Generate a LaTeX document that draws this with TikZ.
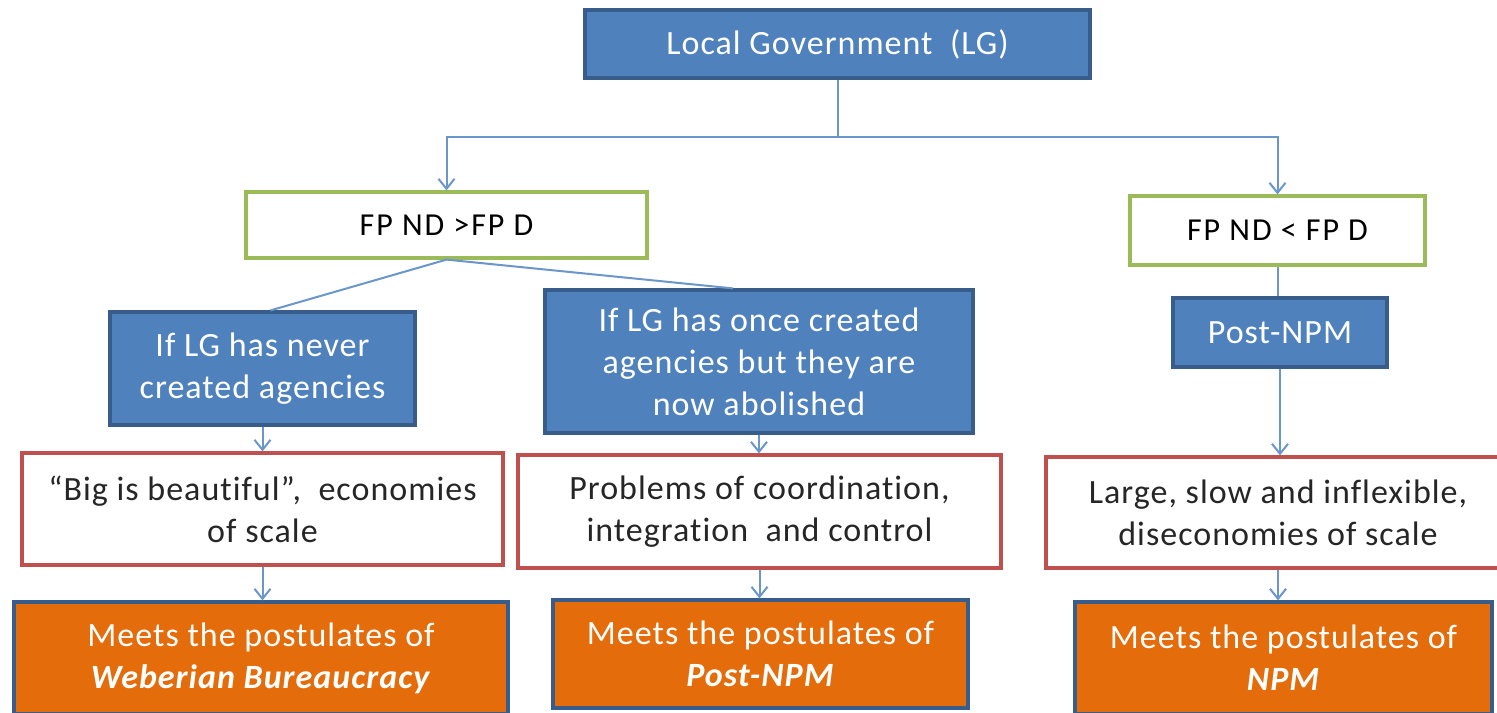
\documentclass[tikz,border=0pt]{standalone}
\usepackage{fontspec}
\setmainfont{Carlito}[LetterSpace=3,Ligatures=NoCommon]
\usetikzlibrary{arrows.meta}
\definecolor{boxblue}{HTML}{4F81BD}
\definecolor{boxblueline}{HTML}{385D8A}
\definecolor{boxgreen}{HTML}{9BBB59}
\definecolor{boxred}{HTML}{C0504D}
\definecolor{boxorange}{HTML}{E46C0A}
\definecolor{conn}{HTML}{6A96CB}
\tikzset{
 base/.style={rectangle, inner sep=0pt, align=center, line width=1.6pt, font=\fontsize{17}{21}\selectfont},
 bluebox/.style={base, fill=boxblue, draw=boxblueline, text=white},
 greenbox/.style={base, fill=white, draw=boxgreen, text=black, font=\fontsize{16}{19}\selectfont\addfontfeatures{LetterSpace=6}},
 redbox/.style={base, fill=white, draw=boxred, text=black!85},
 orangebox/.style={base, fill=boxorange, draw=boxblueline, text=white},
 arr/.style={draw=conn, line width=1pt, -{Straight Barb[length=5pt,width=8pt]}},
 ln/.style={draw=conn, line width=1pt},
}
\begin{document}
\begin{tikzpicture}[x=0.5pt,y=-0.5pt]
\useasboundingbox (0,0) rectangle (1497,712);
\clip (0,0) rectangle (1497,712);
\fill[white] (0,0) rectangle (1497,712);

\node[bluebox, minimum width=252.5pt, minimum height=34pt] (lg) at (837.5,44) {Local Government\ \ (LG)};
\node[greenbox, minimum width=200.5pt, minimum height=33pt] (fp1) at (446.5,225) {FP ND >FP D};
\node[greenbox, minimum width=147.5pt, minimum height=34.5pt] (fp2) at (1277.5,230.5) {FP ND < FP D};
\node[bluebox, minimum width=152.5pt, minimum height=56.5pt] (b1) at (262.5,368.5) {If LG has never\\created agencies};
\node[bluebox, minimum width=214pt, minimum height=71.5pt] (b2) at (759,361.5) {If LG has once created\\agencies but they are\\now abolished};
\node[bluebox, minimum width=107pt, minimum height=34.5pt] (b3) at (1280,332.5) {Post-NPM};
\node[redbox, minimum width=240.5pt, minimum height=56pt] (r1) at (262.5,509) {“Big is beautiful”,\ \ economies\\of scale};
\node[redbox, minimum width=241.5pt, minimum height=56.5pt] (r2) at (759.5,511.5) {Problems of coordination,\\integration\ \ and control};
\node[redbox, minimum width=232pt, minimum height=55.5pt] (r3) at (1278,512.5) {Large, slow and inflexible,\\diseconomies of scale};
\node[orangebox, minimum width=247pt, minimum height=56pt] (o1) at (261,658) {Meets the postulates of\\\textbf{\textit{Weberian Bureaucracy}}};
\node[orangebox, minimum width=207.5pt, minimum height=54pt] (o2) at (760.5,654) {Meets the postulates of\\\textbf{\textit{Post-NPM}}};
\node[orangebox, minimum width=208.5pt, minimum height=56pt] (o3) at (1283.5,658) {Meets the postulates of\\\textbf{\textit{NPM}}};

\path (lg.south) ++(0,57) coordinate (j);
\draw[ln] (lg.south) -- (j);
\draw[arr] (j) -| (fp1.north);
\draw[arr] (j) -| (fp2.north);
\draw[ln] (fp1.south) -- ([xshift=4pt]b1.north);
\draw[ln] (fp1.south) -- ([xshift=-13pt]b2.north);
\draw[ln] (fp2.south) -- (fp2.south |- b3.north);
\draw[arr] (b1.south) -- (b1.south |- r1.north);
\draw[arr] (r1.south) -- (r1.south |- o1.north);
\draw[arr] (b2.south) -- (b2.south |- r2.north);
\draw[arr] (r2.south) -- (r2.south |- o2.north);
\draw[arr] (b3.south) -- (b3.south |- r3.north);
\draw[arr] (r3.south) -- (r3.south |- o3.north);
\end{tikzpicture}
\end{document}
